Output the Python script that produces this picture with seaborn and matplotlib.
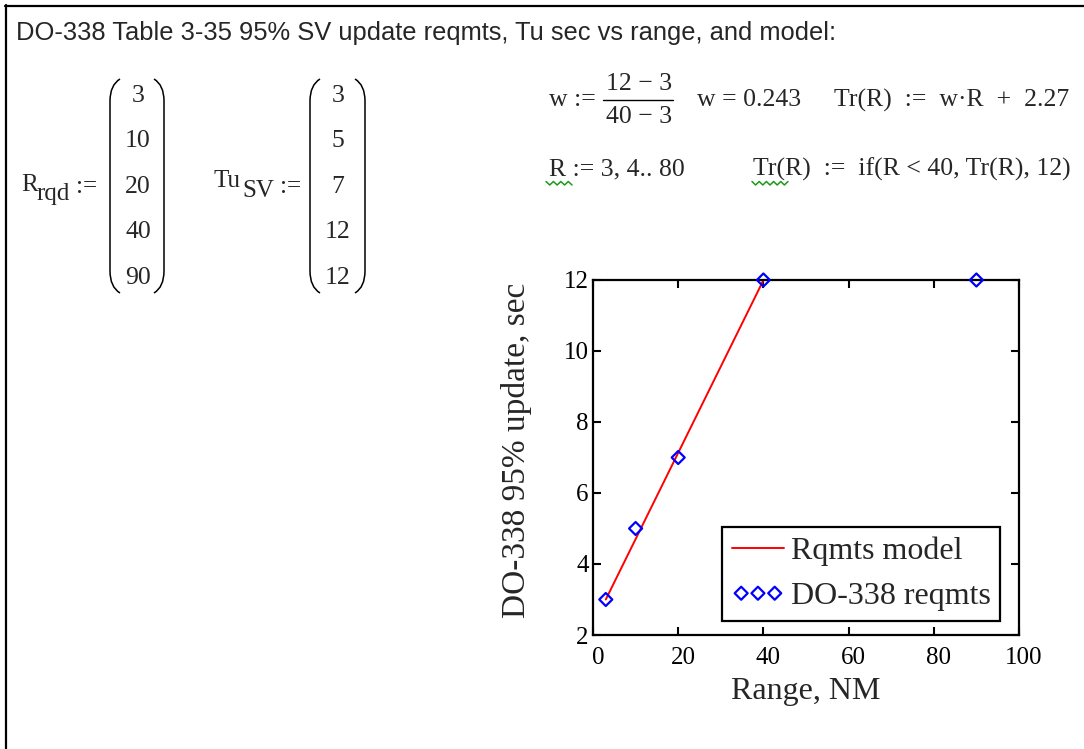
import numpy as np
import pandas as pd
import seaborn as sns
import matplotlib.pyplot as plt
from matplotlib.path import Path
from matplotlib.patches import PathPatch
from matplotlib.lines import Line2D
from matplotlib.transforms import ScaledTranslation

# ---------------- data (read from the worksheet) ----------------
range_req = [3, 10, 20, 40, 90]          # R_rqd, NM
tu_sv = [3, 5, 7, 12, 12]                # Tu_SV, sec
model_range = [3, 39, 40, 80]            # Rqmts model knots (R = 3..80)
model_tu = [3.0, 11.75, 12.0, 12.0]      # Tr(R)
x_ticks = [0, 20, 40, 60, 80, 100]
y_ticks = [2, 4, 6, 8, 10, 12]
matrix_r = ["3", "10", "20", "40", "90"]
matrix_tu = ["3", "5", "7", "12", "12"]

W, H = 1084, 749

sns.set_theme(style="white")
plt.rcParams["font.family"] = ["Liberation Serif", "DejaVu Serif"]

fig = plt.figure(figsize=(W / 100, H / 100), dpi=100)
fig.patch.set_facecolor("white")


def fx(x):
    return x / W


def fy(y):
    return 1 - y / H


# worksheet border (top and left)
fig.add_artist(Line2D([fx(5), fx(W)], [fy(5.5), fy(5.5)], color="black", lw=1.6))
fig.add_artist(Line2D([fx(5.5), fx(5.5)], [fy(5), fy(H)], color="black", lw=1.6))

# title
fig.text(fx(16), fy(33), "DO-338 Table 3-35 95% SV update reqmts, Tu sec vs range, and model:",
         family=["Liberation Sans", "DejaVu Sans"], fontsize=18.4, va="center", ha="left")

MF = 18  # matrix font size
FF = 18.5  # formula font size


def t(x, y, s, ha="left", size=MF):
    fig.text(fx(x), fy(y), s, fontsize=size, va="center", ha=ha)


def paren(xs, xc, top, bot):
    c = 22
    verts = [(fx(xs), fy(top)), (fx(xc), fy(top + 6)), (fx(xc), fy(top + c)),
             (fx(xc), fy(bot - c)),
             (fx(xc), fy(bot - 6)), (fx(xs), fy(bot))]
    codes = [Path.MOVETO, Path.CURVE3, Path.CURVE3, Path.LINETO, Path.CURVE3, Path.CURVE3]
    fig.add_artist(PathPatch(Path(verts, codes), fc="none", ec="black", lw=1.1,
                             transform=fig.transFigure))


rows_y = [96, 141, 187, 232, 278]
# R_rqd matrix
t(21, 185, "R")
t(36, 194, "rqd")
t(76, 187, ":=")
paren(120, 110, 79, 293)
paren(154, 164, 79, 293)
for yy, s in zip(rows_y, matrix_r):
    t(138, yy, s, ha="center", size=18.5)

# Tu_SV matrix
t(214, 181, "Tu")
t(242, 191, "SV")
t(280, 187, ":=")
paren(320, 310, 79, 293)
paren(355, 365, 79, 293)
for yy, s in zip(rows_y, matrix_tu):
    t(338, yy, s, ha="center", size=18.5)

# formulas (right block)
L1, L2 = 100, 169
t(549, L1, "w :=", size=FF)
fig.add_artist(Line2D([fx(603), fx(673)], [fy(L1), fy(L1)], color="black", lw=1.0))
t(639, 84, "12 \u2212 3", ha="center", size=FF)
t(639, 117, "40 \u2212 3", ha="center", size=FF)
t(697, L1, "w = 0.243", size=FF)
t(834, L1, "Tr(R)  :=  w\u00b7R  +  2.27", size=FF)
t(549, L2, "R := 3, 4.. 80", size=FF)
t(753, L2, "Tr(R)  :=  if(R < 40, Tr(R), 12)", size=FF)


def squiggle(x0, x1, y):
    n = int((x1 - x0) / 3.5)
    xs = [x0 + i * (x1 - x0) / n for i in range(n + 1)]
    ys = [y + (2 if i % 2 else -1.5) for i in range(n + 1)]
    fig.add_artist(Line2D([fx(v) for v in xs], [fy(v) for v in ys], color="#1a9a1a", lw=1.1))


squiggle(546, 572, 183)
squiggle(752, 788, 183)

# ---------------- chart ----------------
ax = fig.add_axes([fx(593), fy(635), (1019 - 593) / W, (635 - 280) / H])
sns.lineplot(x=model_range, y=model_tu, ax=ax, color="red", lw=1.4, label="Rqmts model")
sns.scatterplot(x=range_req, y=tu_sv, ax=ax, marker="D", s=44, color="blue",
                facecolor="none", edgecolor="blue", linewidth=1.6, label="DO-338 reqmts",
                zorder=3, clip_on=False)

ax.set_xlim(0, 100)
ax.set_ylim(2, 12)
ax.set_xticks(x_ticks)
ax.set_yticks(y_ticks)
for sp in ax.spines.values():
    sp.set_visible(True)
    sp.set_color("black")
    sp.set_linewidth(1.6)
ax.tick_params(direction="in", length=6, width=1.5, top=True, right=True,
               bottom=True, left=True, labelsize=18, colors="black")
ax.tick_params(axis="x", pad=9)
ax.tick_params(axis="y", pad=3)
off = ScaledTranslation(5 / 100, 0, fig.dpi_scale_trans)
for lab in ax.get_xticklabels():
    lab.set_transform(lab.get_transform() + off)

ax.set_xlabel("Range, NM", fontsize=23, va="center")
ax.set_ylabel("DO-338 95% update, sec", fontsize=24, va="center")
ax.xaxis.set_label_coords(0.5, (635 - 692) / 355)
ax.yaxis.set_label_coords((517 - 593) / 426, 0.52)

leg = ax.legend(loc="upper left", bbox_to_anchor=(fx(722), fy(527)),
                bbox_transform=fig.transFigure, borderaxespad=0,
                scatterpoints=3, scatteryoffsets=[0.5], fancybox=False,
                framealpha=1, edgecolor="black", fontsize=23,
                handlelength=1.65, handletextpad=0.2, borderpad=0.3,
                labelspacing=0.5)
leg.get_frame().set_linewidth(1.6)

fig.savefig("out.png", dpi=100, facecolor="white")
